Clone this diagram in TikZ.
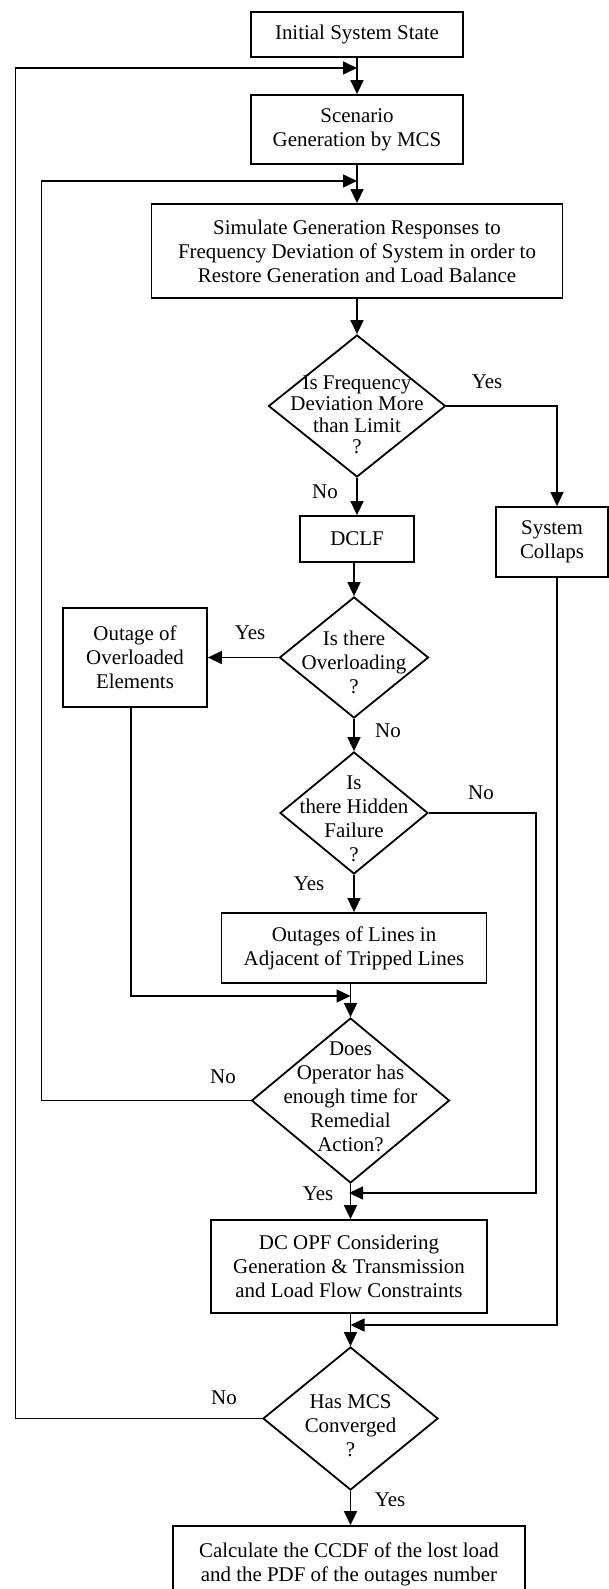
\documentclass[tikz,border=0pt]{standalone}
\usepackage{fontspec}
\setmainfont{Liberation Serif}
\usetikzlibrary{shapes.geometric,arrows.meta}
\begin{document}
\begin{tikzpicture}[x=1bp,y=-1bp,
  font=\fontsize{21}{24}\selectfont,
  box/.style={draw,line width=1.8bp,align=center,inner sep=0pt},
  dia/.style={draw,diamond,line width=1.8bp,inner sep=0pt},
  dtxt/.style={align=center,inner sep=0pt},
  lab/.style={inner sep=0pt},
  arr/.style={line width=1.6bp,-{Triangle[length=14bp,width=13bp]}},
  ln/.style={line width=1.6bp}]
\useasboundingbox[fill=white] (0,0) rectangle (609,1589);

% boxes
\node[box,minimum width=212bp,minimum height=45bp] (init) at (357,34.5) {Initial System State};
\node[box,minimum width=212bp,minimum height=69bp] (scen) at (357,129.5) {Scenario\\Generation by MCS};
\node[box,minimum width=411bp,minimum height=94bp] (sim) at (357,251) {Simulate Generation Responses to\\Frequency Deviation of System in order to\\Restore Generation and Load Balance};
\node[dia,minimum width=177bp,minimum height=142bp] (d1) at (357,406) {};
\node[dtxt,font=\fontsize{21}{21.5}\selectfont] (d1t) at (357,415) {Is Frequency\\Deviation More\\than Limit\\?};
\node[box,minimum width=114bp,minimum height=46bp] (dclf) at (357,539) {DCLF};
\node[box,minimum width=112bp,minimum height=70bp] (coll) at (552,542) {System\\Collaps};
\node[dia,minimum width=149bp,minimum height=121bp] (d2) at (354,657.5) {};
\node[dtxt] (d2t) at (354,662) {Is there\\Overloading\\?};
\node[box,minimum width=144bp,minimum height=99bp] (ovl) at (135,657.5) {Outage of\\Overloaded\\Elements};
\node[dia,minimum width=148bp,minimum height=122bp] (d3) at (354,813) {};
\node[dtxt] (d3t) at (354,819) {Is\\there Hidden\\Failure\\?};
\node[box,minimum width=265bp,minimum height=70bp] (outl) at (354,948) {Outages of Lines in\\Adjacent of Tripped Lines};
\node[dia,minimum width=198bp,minimum height=165bp] (d4) at (350.5,1100.5) {};
\node[dtxt] (d4t) at (350.5,1097) {Does\\Operator has\\enough time for\\Remedial\\Action?};
\node[box,minimum width=276bp,minimum height=93bp] (opf) at (349,1266.5) {DC OPF Considering\\Generation \& Transmission\\and Load Flow Constraints};
\node[dia,minimum width=175bp,minimum height=143bp] (d5) at (350.5,1418.5) {};
\node[dtxt] (d5t) at (350.5,1426) {Has MCS\\Converged\\?};
\node[box,minimum width=352bp,minimum height=76bp] (calc) at (349,1564) {Calculate the CCDF of the lost load\\and the PDF of the outages number};

% main flow
\draw[arr] (init.south) -- (scen.north);
\draw[arr] (scen.south) -- (sim.north);
\draw[arr] (sim.south) -- (d1.north);
\draw[arr] (d1.south) -- (dclf.north);
\draw[arr] (dclf.south -| d2.north) -- (d2.north);
\draw[arr] (d2.south) -- (d3.north);
\draw[arr] (d3.south) -- (d3.south |- outl.north);
\draw[arr] (outl.south -| d4.north) -- (d4.north);
\draw[arr] (d4.south) -- (d4.south |- opf.north);
\draw[arr] (opf.south -| d5.north) -- (d5.north);
\draw[arr] (d5.south) -- (d5.south |- calc.north);

% side branches
\draw[arr] (d1.east) -| ([xshift=5bp]coll.north);
\draw[arr] (d2.west) -- (ovl.east);
\coordinate (oB) at (131,996);
\draw[arr] (oB |- ovl.south) -- (oB) -- (oB -| d4.north);
\coordinate (nR) at (536,1193);
\draw[arr] (d3.east) -| (nR) -- (nR -| opf.north);
\coordinate (cR) at (557,1325);
\draw[arr] ([xshift=5bp]coll.south) -- (cR) -- (cR -| d5.north);

% loops
\coordinate (iL) at (41.5,181);
\draw[arr] (d4.west) -| (iL) -- (iL -| scen.south);
\coordinate (oL) at (15.5,68);
\draw[arr] (d5.west) -| (oL) -- (oL -| init.south);

% labels
\node[lab] (y1) at (487,382) {Yes};
\node[lab] (n1) at (325,492) {No};
\node[lab] (y2) at (250,633) {Yes};
\node[lab] (n2) at (388,731) {No};
\node[lab] (n3) at (481,793) {No};
\node[lab] (y3) at (309,884) {Yes};
\node[lab] (n4) at (223,1077) {No};
\node[lab] (y4) at (318,1194) {Yes};
\node[lab] (n5) at (224,1398) {No};
\node[lab] (y5) at (390,1500) {Yes};
\end{tikzpicture}
\end{document}
